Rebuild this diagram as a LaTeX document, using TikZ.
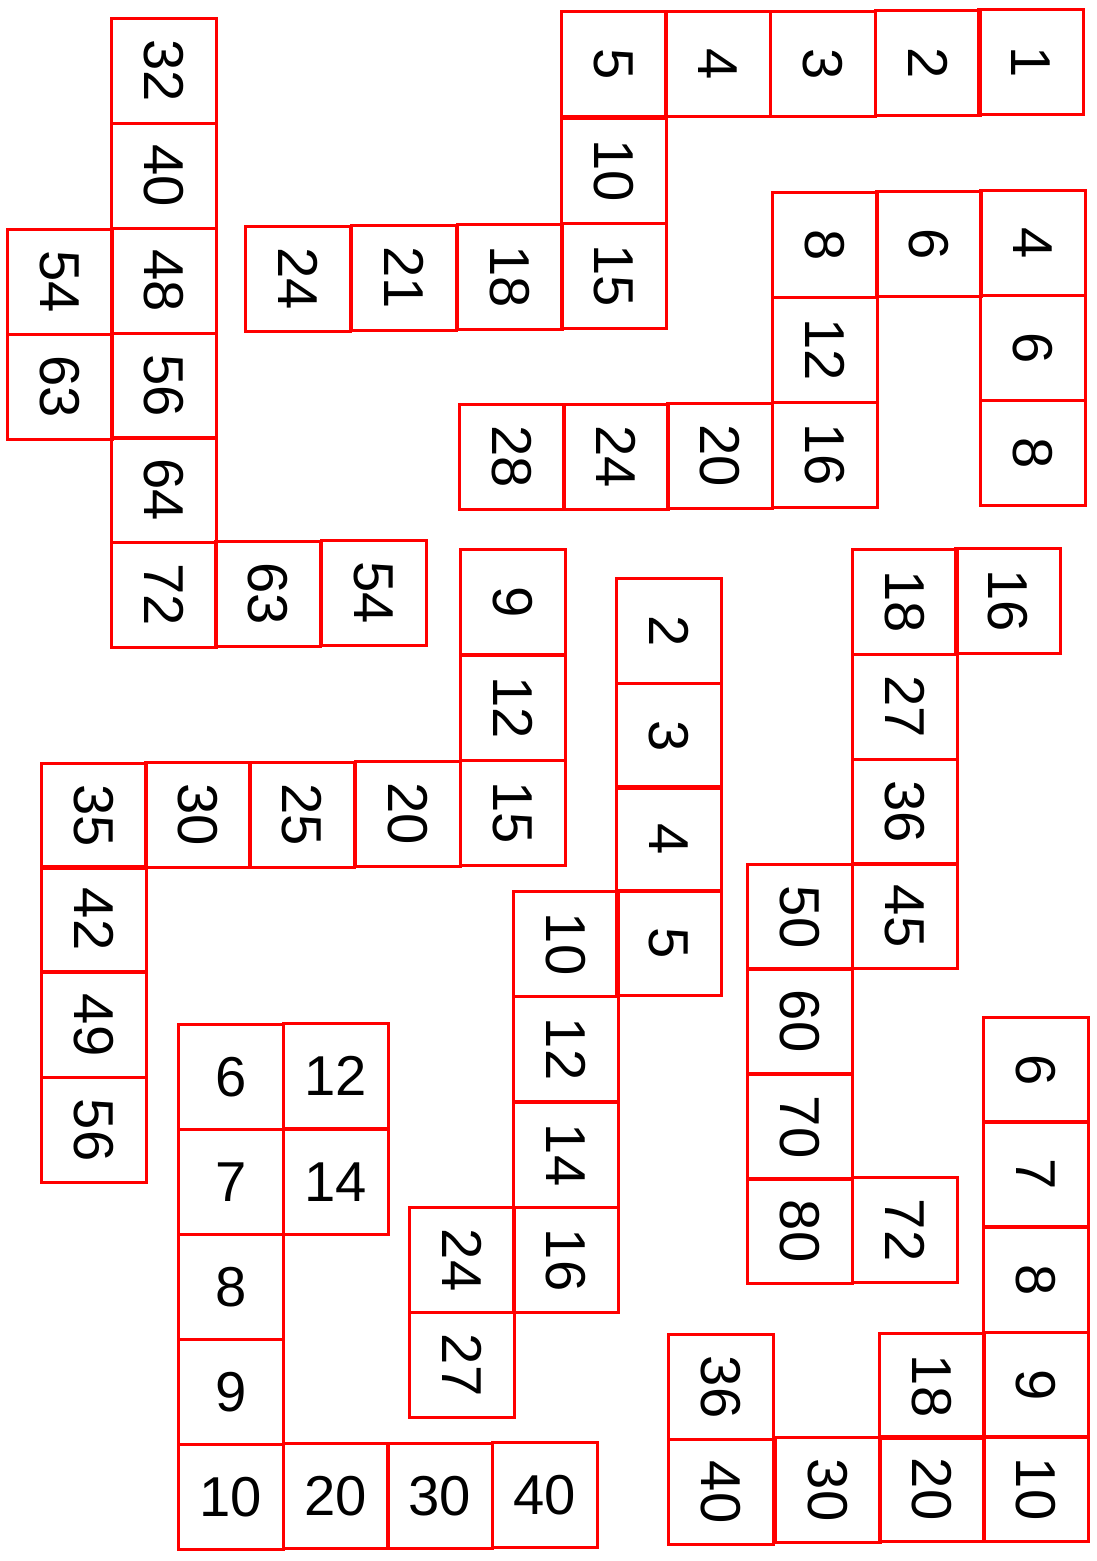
\documentclass[tikz,border=0pt]{standalone}
\usepackage{fontspec}
\setmainfont{Liberation Sans}

\newcommand*{\pagew}{1096}
\newcommand*{\pageh}{1561}

\begin{document}
\begin{tikzpicture}
[
	x=0.02cm,
	y=-0.02cm,
	cell/.style={rectangle,draw=red,line width=1.7pt,inner sep=0pt,minimum size=2.09cm,
		font=\fontsize{32}{38}\selectfont},
	turned/.style={cell,rotate=-90},
]

	\useasboundingbox (0,0) rectangle (\pagew,\pageh);

	% multiples of 8 and 9, top left
	\node[turned] at (164,71) (a32) {32};
	\node[turned] at (164,176) (a40) {40};
	\node[turned] at (164,281) (a48) {48};
	\node[turned] at (164,386) (a56) {56};
	\node[turned] at (164,490) (a64) {64};
	\node[turned] at (164,595) (a72) {72};
	\node[turned] at (268,594) (a63) {63};
	\node[turned] at (374,593) (a54) {54};
	\node[turned] at (60,282) (b54) {54};
	\node[turned] at (60,387) (b63) {63};

	% 1 to 5, then 5 and 3
	\node[turned] at (614,64) (c5) {5};
	\node[turned] at (718,64) (c4) {4};
	\node[turned] at (823,64) (c3) {3};
	\node[turned] at (928,63) (c2) {2};
	\node[turned] at (1031,62) (c1) {1};
	\node[turned] at (614,171) (c10) {10};
	\node[turned] at (614,276) (c15) {15};
	\node[turned] at (510,277) (c18) {18};
	\node[turned] at (404,278) (c21) {21};
	\node[turned] at (298,279) (c24) {24};

	% 2 and 4
	\node[turned] at (825,245) (d8) {8};
	\node[turned] at (929,244) (d6) {6};
	\node[turned] at (1033,243) (d4) {4};
	\node[turned] at (1033,348) (e6) {6};
	\node[turned] at (1033,453) (e8) {8};
	\node[turned] at (825,350) (d12) {12};
	\node[turned] at (825,455) (d16) {16};
	\node[turned] at (720,456) (d20) {20};
	\node[turned] at (616,457) (d24) {24};
	\node[turned] at (512,457) (d28) {28};

	% 3, 5 and 7
	\node[turned] at (513,602) (f9) {9};
	\node[turned] at (513,708) (f12) {12};
	\node[turned] at (513,813) (f15) {15};
	\node[turned] at (408,814) (f20) {20};
	\node[turned] at (302,815) (f25) {25};
	\node[turned] at (198,815) (f30) {30};
	\node[turned] at (94,816) (f35) {35};
	\node[turned] at (94,919) (f42) {42};
	\node[turned] at (94,1025) (f49) {49};
	\node[turned] at (94,1130) (f56) {56};

	% 1 and 2, then 3
	\node[turned] at (669,631) (g2) {2};
	\node[turned] at (669,736) (g3) {3};
	\node[turned] at (669,839) (g4) {4};
	\node[turned] at (669,943) (g5) {5};
	\node[turned] at (566,944) (g10) {10};
	\node[turned] at (566,1049) (g12) {12};
	\node[turned] at (566,1155) (g14) {14};
	\node[turned] at (566,1260) (g16) {16};
	\node[turned] at (462,1260) (g24) {24};
	\node[turned] at (462,1365) (g27) {27};

	% 9, 10 and 8
	\node[turned] at (905,602) (h18) {18};
	\node[turned] at (1008,601) (h16) {16};
	\node[turned] at (905,707) (h27) {27};
	\node[turned] at (905,812) (h36) {36};
	\node[turned] at (905,916) (h45) {45};
	\node[turned] at (800,917) (h50) {50};
	\node[turned] at (800,1021) (h60) {60};
	\node[turned] at (800,1127) (h70) {70};
	\node[turned] at (800,1231) (h80) {80};
	\node[turned] at (905,1230) (h72) {72};

	% 1 and 2, bottom right
	\node[turned] at (1036,1070) (k6) {6};
	\node[turned] at (1036,1174) (k7) {7};
	\node[turned] at (1036,1280) (k8) {8};
	\node[turned] at (1036,1385) (k9) {9};
	\node[turned] at (1036,1489) (k10) {10};
	\node[turned] at (932,1386) (k18) {18};
	\node[turned] at (932,1489) (k20) {20};
	\node[turned] at (828,1490) (k30) {30};
	\node[turned] at (721,1492) (k40) {40};
	\node[turned] at (721,1387) (k36) {36};

	% upright, bottom left
	\node[cell] at (231,1077) (m6) {6};
	\node[cell] at (336,1076) (m12) {12};
	\node[cell] at (231,1182) (m7) {7};
	\node[cell] at (336,1182) (m14) {14};
	\node[cell] at (231,1287) (m8) {8};
	\node[cell] at (231,1392) (m9) {9};
	\node[cell] at (231,1497) (m10) {10};
	\node[cell] at (336,1496) (m20) {20};
	\node[cell] at (440,1496) (m30) {30};
	\node[cell] at (545,1495) (m40) {40};

\end{tikzpicture}
\end{document}
